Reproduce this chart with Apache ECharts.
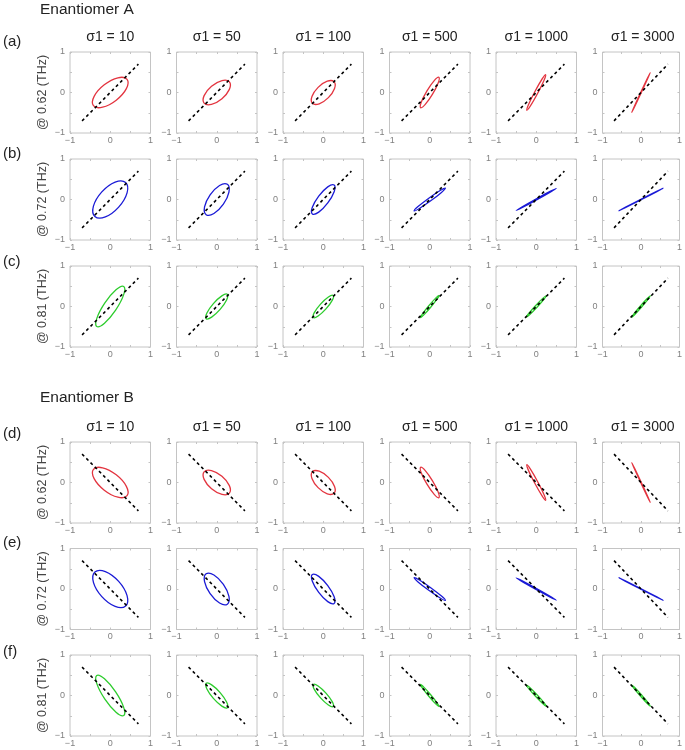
<!DOCTYPE html>
<html>
<head>
<meta charset="utf-8">
<script src="https://cdn.jsdelivr.net/npm/echarts@6/dist/echarts.min.js"></script>
<style>
html,body{margin:0;padding:0;background:#fff;}
#chart{width:685px;height:750px;}
</style>
</head>
<body>
<div id="chart"></div>
<script>
// ---------- data ----------
const sigmaValues = [10, 50, 100, 500, 1000, 3000];
const freqLabels = ['0.62', '0.72', '0.81'];
const rowLetters = ['(a)', '(b)', '(c)', '(d)', '(e)', '(f)'];
const groupTitles = ['Enantiomer A', 'Enantiomer B'];
const tickValues = [-1, 0, 1];
const refLineA = [[-0.7, -0.7], [0.7, 0.7]];
const refLineB = [[-0.7, 0.7], [0.7, -0.7]];

// ellipse semi-major axis, semi-minor axis, orientation (deg) per sigma
const majorA062 = [0.53, 0.41, 0.38, 0.44, 0.50, 0.57];
const minorA062 = [0.24, 0.20, 0.18, 0.08, 0.04, 0.004];
const angleA062 = [38, 40, 45, 59, 62, 65];
const majorA072 = [0.57, 0.46, 0.45, 0.48, 0.57, 0.65];
const minorA072 = [0.28, 0.20, 0.14, 0.04, 0.015, 0.004];
const angleA072 = [48, 55, 53, 36, 29, 27];
const majorA081 = [0.60, 0.40, 0.37, 0.36, 0.36, 0.37];
const minorA081 = [0.16, 0.11, 0.09, 0.03, 0.025, 0.02];
const angleA081 = [56, 49, 48, 50, 47, 49];

const majorB062 = [0.53, 0.41, 0.38, 0.44, 0.50, 0.57];
const minorB062 = [0.24, 0.20, 0.18, 0.08, 0.04, 0.004];
const angleB062 = [142, 140, 135, 121, 118, 115];
const majorB072 = [0.57, 0.46, 0.45, 0.48, 0.57, 0.65];
const minorB072 = [0.28, 0.20, 0.14, 0.04, 0.015, 0.004];
const angleB072 = [132, 125, 127, 144, 151, 153];
const majorB081 = [0.60, 0.40, 0.37, 0.36, 0.36, 0.37];
const minorB081 = [0.16, 0.11, 0.09, 0.03, 0.025, 0.02];
const angleB081 = [124, 131, 132, 130, 133, 131];

// ---------- layout / style ----------
const colLeft = [70, 176.5, 283, 389.5, 496, 602.5];
const rowTop = [52, 159, 266, 442, 548.5, 655];
const panelW = 80.5, panelH = 81;
const rowColors = ['#e3343f', '#1a1ad6', '#2ccc2c'];
const letterY = [43, 155, 263, 435, 544, 653];
const FONT = "'Liberation Sans', Arial, sans-serif";

const rows = [
  {major: majorA062, minor: minorA062, angle: angleA062, ref: refLineA},
  {major: majorA072, minor: minorA072, angle: angleA072, ref: refLineA},
  {major: majorA081, minor: minorA081, angle: angleA081, ref: refLineA},
  {major: majorB062, minor: minorB062, angle: angleB062, ref: refLineB},
  {major: majorB072, minor: minorB072, angle: angleB072, ref: refLineB},
  {major: majorB081, minor: minorB081, angle: angleB081, ref: refLineB}
];

const grids = [], xAxes = [], yAxes = [], series = [], graphics = [];
const frameColor = '#c4c4c4';
const labelFmt = v => (tickValues.indexOf(v) >= 0 ? (v < 0 ? '\u22121' : String(v)) : '');

rows.forEach((row, r) => {
  const color = rowColors[r % 3];
  for (let c = 0; c < 6; c++) {
    const g = grids.length;
    grids.push({left: colLeft[c], top: rowTop[r], width: panelW, height: panelH,
      show: true, borderColor: frameColor, borderWidth: 1, backgroundColor: '#fff'});
    const common = {type: 'value', min: -1, max: 1, interval: 0.5, gridIndex: g,
      splitLine: {show: false}, axisLine: {show: false, onZero: false},
      axisTick: {show: true, inside: true, length: 2, lineStyle: {color: frameColor}}};
    xAxes.push(Object.assign({}, common, {position: 'bottom',
      axisLabel: {show: true, formatter: labelFmt, fontSize: 9, color: '#808080', margin: 3, fontFamily: FONT, showMinLabel: true, showMaxLabel: true}}));
    xAxes.push(Object.assign({}, common, {position: 'top', axisLabel: {show: false}}));
    yAxes.push(Object.assign({}, common, {position: 'left',
      axisLabel: {show: true, formatter: labelFmt, fontSize: 9, color: '#808080', margin: 5, fontFamily: FONT, showMinLabel: true, showMaxLabel: true}}));
    yAxes.push(Object.assign({}, common, {position: 'right', axisLabel: {show: false}}));

    series.push({type: 'line', xAxisIndex: 2 * g, yAxisIndex: 2 * g, data: row.ref,
      symbol: 'none', silent: true, animation: false, z: 3,
      lineStyle: {color: '#000', width: 1.6, type: [3, 3]}});

    series.push({type: 'custom', xAxisIndex: 2 * g, yAxisIndex: 2 * g, animation: false, z: 2,
      data: [[0, 0, row.major[c], row.minor[c], row.angle[c]]],
      renderItem: (params, api) => {
        const p = api.coord([api.value(0), api.value(1)]);
        const s = api.size([api.value(2), api.value(3)]);
        return {type: 'ellipse', x: p[0], y: p[1], rotation: api.value(4) * Math.PI / 180,
          shape: {cx: 0, cy: 0, rx: s[0], ry: Math.max(s[1], 0.25)},
          style: {fill: 'none', stroke: color, lineWidth: 1.3}};
      }});
  }
  // row letter
  graphics.push({type: 'text', left: 3, top: letterY[r] - 9,
    style: {text: rowLetters[r], font: '15px ' + FONT, fill: '#222'}});
  // y label rotated
  graphics.push({type: 'text', x: 43, y: rowTop[r] + panelH / 2, rotation: Math.PI / 2,
    style: {text: '@ ' + freqLabels[r % 3] + ' (THz)', font: '12.5px ' + FONT, fill: '#444',
      textAlign: 'center', textVerticalAlign: 'middle'}});
});

// group titles and column titles
const groupTitleY = [10, 398];
const colTitleY = [37, 427];
groupTitles.forEach((t, i) => {
  graphics.push({type: 'text', x: 40, y: groupTitleY[i],
    style: {text: t, font: '15.5px ' + FONT, fill: '#222', textAlign: 'left', textVerticalAlign: 'middle'}});
  sigmaValues.forEach((s, c) => {
    graphics.push({type: 'text', x: colLeft[c] + panelW / 2, y: colTitleY[i],
      style: {text: '\u03c31 = ' + s, font: '14px ' + FONT, fill: '#222', textAlign: 'center', textVerticalAlign: 'middle'}});
  });
});

const chart = echarts.init(document.getElementById('chart'), null, {renderer: 'canvas'});
chart.setOption({
  backgroundColor: '#fff',
  animation: false,
  grid: grids,
  xAxis: xAxes,
  yAxis: yAxes,
  series: series,
  graphic: graphics
});
</script>
</body>
</html>
